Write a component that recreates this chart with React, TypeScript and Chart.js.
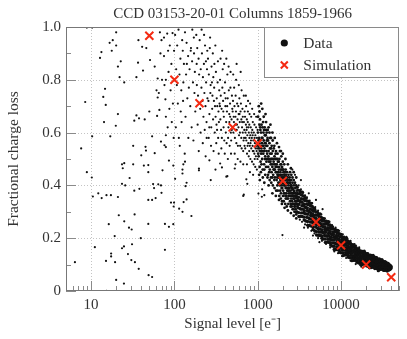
import React, { useEffect, useRef } from "react";
import { Chart, registerables } from "chart.js";

Chart.register(...registerables);

const TITLE = "CCD 03153-20-01 Columns 1859-1966";
const X_TITLE = "Signal level [e\u207B]";
const Y_TITLE = "Fractional charge loss";

const xTickValues = [10, 100, 1000, 10000];
const xTickLabels = ["10", "100", "1000", "10000"];
const yTickValues = [0, 0.2, 0.4, 0.6, 0.8, 1.0];
const yTickLabels = ["0", "0.2", "0.4", "0.6", "0.8", "1.0"];

const simSignal = [50, 100, 200, 500, 1000, 2000, 5000, 10000, 20000, 40000];
const simLoss = [0.967, 0.8, 0.711, 0.62, 0.559, 0.417, 0.261, 0.173, 0.1, 0.052];

// sparse low-signal data points
const dataSparse: [number, number][] = [
  [20,.98],[37,.95],[18.2,.95],[16.7,.94],[20,.93],[13.3,.905],[17.7,.91],[12.8,.883],[22.7,.87],[36.6,.865],
  [21,.85],[42,.835],[51,.875],[58,.85],[46,.92],[41,.925],[70,.95],[75,.96],[82,.975],[95,.977],[67,.98],
  [68,.9],[75,.89],[84,.91],[22,.81],[35,.81],[25,.79],[63,.805],[71,.8],[79,.8],[14.7,.766],[14,.735],
  [8.5,.716],[15,.705],[61,.76],[65,.75],[63,.733],[78,.726],[76,.78],[66,.686],[79,.66],[50,.68],[35,.665],
  [21,.67],[37.6,.654],[33,.645],[44,.65],[62,.663],[14.3,.64],[19.8,.626],[10.3,.586],[17,.586],[54,.586],
  [79,.59],[69,.566],[76,.552],[32,.55],[45,.546],[7.6,.54],[45.6,.532],[58,.522],[40,.514],[79,.545],
  [8.9,.998],[10.3,.998],[88,.93],[92,.86],[85,.83],[90,.76],[96,.71],[93,.64],[87,.69],[98,.58],[83,.62],[99,.91],
  [8.9,.45],[10.2,.43],[23.5,.48],[25,.484],[24,.465],[32,.48],[43,.475],[48.6,.477],[48.6,.45],[72,.457],
  [86,.494],[97,.475],[29,.428],[23.5,.406],[25.7,.4],[33,.38],[38,.387],[55.5,.405],[64,.404],[57,.39],
  [69,.4],[70,.372],[12.2,.37],[10.5,.358],[13.4,.352],[15.3,.363],[17.3,.363],[21,.356],[48.6,.345],[54,.345],
  [59.5,.352],[91,.335],[99,.335],[98,.32],[21.5,.287],[33.3,.29],[25,.264],[16.3,.253],[48.6,.254],[77,.254],
  [86,.243],[28.5,.24],[30.7,.233],[19.2,.208],[39.5,.2],[11.1,.166],[31,.177],[24.8,.169],[23.5,.162],[77,.156],
  [17.4,.142],[17.4,.131],[27.7,.14],[6.4,.109],[15.1,.114],[19.4,.109],[30.4,.117],[33.6,.109],[37.3,.084],
  [49,.06],[54,.053],[20,.042],[24.8,.028],[15.3,.001],
  [134,.49],[128,.48],[125,.46],[125,.445],[102,.425],[197,.464],[197,.457],[263,.495],[354,.483],[372,.468],
  [311,.46],[432,.435],[273,.42],[140,.41],[136,.397],[530,.464],[540,.48],[730,.423],[750,.406],[680,.365],
  [1020,.369],[1200,.363],[1130,.385],[140,.347],[129,.337],[114,.312],[125,.3],[160,.284],[97,.253],
  [420,.433],[670,.36],[1120,.357],[1980,.212],
];

// speckle around the dense band
const dataHalo: [number, number][] = [
  [3100,.4],[3300,.385],[3500,.372],[3700,.362],[3900,.355],[4200,.342],[4500,.333],[4900,.318],[5300,.305],
  [5800,.29],[6400,.275],[7000,.265],[7800,.25],[8600,.24],[9500,.228],[10500,.215],[11600,.205],[13000,.19],
  [14500,.178],[16500,.165],
  [3200,.27],[3400,.262],[3700,.252],[4000,.24],[4400,.228],[4800,.218],[5300,.2],[5900,.19],[6600,.178],
  [7400,.165],[8300,.15],[9200,.143],[10300,.132],[11500,.125],[13000,.115],[15000,.102],[17500,.092],
  [3300,.42],[4100,.37],[5000,.345],[6000,.31],[2800,.44],[2600,.46],[3600,.24],[4600,.21],[5500,.185],
];

// upper cloud, 100 - 1000 e-
const dataCloud: [number, number][] = [
  [102,.97],[108,.93],[112,.99],[118,.88],[105,.84],[115,.82],[121,.76],[110,.71],[126,.91],[130,.86],[124,.95],
  [107,.78],[119,.68],[128,.79],[104,.62],[113,.58],[127,.72],[122,.64],[116,.55],
  [134,.98],[140,.94],[146,.89],[152,.84],[138,.82],[158,.92],[163,.87],[149,.77],[171,.96],[176,.83],[143,.73],
  [167,.79],[155,.7],[174,.75],[136,.66],[161,.62],[178,.68],[147,.58],[169,.57],[133,.52],[157,.91],[164,.99],
  [141,.86],[172,.9],
  [183,.97],[188,.92],[195,.88],[201,.95],[207,.84],[214,.9],[220,.81],[226,.86],[233,.93],[240,.79],[246,.84],
  [186,.78],[192,.74],[198,.82],[204,.69],[211,.77],[217,.72],[223,.66],[229,.75],[236,.7],[243,.64],[249,.73],
  [190,.63],[206,.6],[219,.56],[231,.61],[244,.58],[196,.53],[237,.51],[212,.99],[227,.97],[248,.91],[185,.86],[239,.87],
  [253,.88],[259,.82],[266,.92],[272,.78],[279,.85],[286,.74],[293,.81],[300,.77],[307,.7],[315,.83],[322,.73],
  [330,.79],[338,.68],[345,.76],[256,.72],[263,.67],[270,.75],[277,.62],[284,.69],[291,.65],[298,.72],[305,.6],
  [312,.66],[320,.63],[327,.7],[335,.58],[342,.64],[348,.71],[258,.58],[275,.55],[295,.53],[318,.56],[340,.52],
  [268,.96],[289,.9],[310,.93],[333,.87],[262,.62],[302,.86],[325,.61],[282,.79],
  [353,.8],[360,.74],[368,.69],[376,.77],[384,.72],[392,.66],[400,.75],[409,.7],[418,.64],[427,.68],[436,.73],
  [445,.62],[455,.67],[465,.71],[475,.6],[485,.65],[495,.69],[356,.65],[363,.61],[371,.58],[380,.84],[389,.62],
  [397,.57],[405,.79],[414,.6],[423,.56],[432,.82],[441,.58],[450,.76],[460,.55],[470,.77],[480,.57],[490,.74],
  [358,.88],[374,.91],[395,.86],[420,.88],[447,.85],[472,.83],[366,.54],[402,.52],[438,.5],[478,.52],[386,.68],
  [412,.73],[457,.64],[488,.61],[352,.7],[430,.7],[467,.66],
  [505,.72],[515,.66],[526,.7],[537,.63],[548,.68],[560,.61],[572,.65],[584,.7],[596,.59],[609,.64],[622,.68],
  [635,.58],[648,.62],[662,.66],[676,.57],[690,.61],[510,.6],[521,.77],[532,.58],[543,.74],[554,.56],[566,.71],
  [578,.55],[590,.67],[602,.73],[615,.55],[628,.71],[641,.54],[655,.69],[669,.53],[683,.64],[697,.68],[518,.64],
  [540,.66],[563,.63],[587,.62],[611,.6],[636,.65],[660,.6],[686,.58],[508,.82],[550,.8],[593,.78],[640,.76],
  [680,.74],[529,.52],[575,.5],[620,.49],[670,.48],[500,.68],[545,.61],[605,.67],[650,.64],[695,.55],[558,.86],[624,.83],
  [704,.66],[712,.6],[721,.63],[730,.57],[740,.62],[750,.59],[760,.64],[770,.56],[781,.6],[792,.63],[803,.55],
  [814,.59],[825,.62],[837,.54],[849,.58],[861,.61],[873,.53],[885,.57],[898,.6],[911,.52],[924,.56],[937,.59],
  [950,.51],[964,.55],[978,.58],[992,.5],[708,.54],[726,.7],[744,.52],[762,.68],[780,.51],[798,.67],[816,.5],
  [835,.66],[854,.49],[873,.64],[893,.48],[913,.63],[934,.47],[955,.62],[976,.46],[997,.61],[716,.58],[735,.61],
  [755,.55],[775,.62],[795,.58],[819,.56],[843,.6],[867,.55],[891,.53],[917,.58],[943,.54],[970,.53],[720,.74],
  [765,.72],[810,.71],[858,.69],[905,.67],[958,.66],[742,.48],[806,.45],[880,.44],[740,.65],[790,.53],[830,.57],
  [870,.59],[920,.5],[985,.54],
];

// band, 1000 - 3000 e-
const dataBandMid: [number, number][] = [
  [1005,.6],[1015,.55],[1026,.51],[1037,.58],[1048,.63],[1059,.53],[1070,.57],[1082,.49],[1094,.6],[1106,.54],
  [1118,.58],[1130,.5],[1142,.62],[1154,.55],[1166,.52],[1179,.57],[1192,.48],[1205,.54],[1218,.59],[1231,.51],
  [1244,.56],[1258,.47],[1272,.53],[1286,.57],[1010,.66],[1032,.54],[1053,.47],[1076,.61],[1099,.52],[1122,.56],
  [1146,.46],[1170,.6],[1195,.53],[1220,.5],[1246,.59],[1272,.49],[1298,.52],[1020,.57],[1065,.65],[1110,.63],
  [1160,.64],[1210,.62],[1260,.61],[1040,.44],[1090,.45],[1150,.43],[1230,.44],[1012,.52],[1045,.56],[1085,.55],
  [1125,.53],[1175,.55],[1215,.56],[1265,.55],[1290,.5],[1030,.7],[1135,.69],[1240,.67],
  [1305,.55],[1320,.5],[1335,.47],[1350,.53],[1366,.49],[1382,.56],[1398,.46],[1414,.52],[1430,.48],[1447,.54],
  [1464,.45],[1481,.5],[1498,.47],[1516,.53],[1534,.44],[1552,.49],[1570,.46],[1589,.51],[1608,.43],[1627,.48],
  [1646,.45],[1666,.5],[1686,.42],[1706,.47],[1726,.44],[1747,.49],[1768,.41],[1789,.46],[1312,.58],[1342,.51],
  [1372,.45],[1403,.54],[1435,.5],[1467,.52],[1500,.43],[1534,.5],[1569,.48],[1604,.46],[1640,.47],[1677,.45],
  [1715,.43],[1754,.45],[1793,.43],[1328,.44],[1390,.42],[1455,.41],[1520,.4],[1590,.39],[1665,.38],[1740,.38],
  [1318,.61],[1380,.6],[1445,.58],[1512,.57],[1582,.55],[1655,.53],[1730,.52],[1360,.5],[1420,.49],[1485,.48],
  [1550,.46],[1620,.5],[1695,.48],[1770,.44],
  [1810,.47],[1830,.43],[1850,.4],[1871,.45],[1892,.42],[1913,.48],[1934,.39],[1956,.44],[1978,.41],[2000,.46],
  [2022,.38],[2045,.43],[2068,.4],[2091,.45],[2114,.37],[2138,.42],[2162,.39],[2186,.44],[2211,.36],[2236,.41],
  [2261,.38],[2286,.43],[2312,.35],[2338,.4],[2364,.37],[2390,.42],[1820,.5],[1860,.44],[1900,.37],[1942,.46],
  [1985,.43],[2030,.41],[2075,.44],[2120,.4],[2168,.42],[2216,.39],[2265,.41],[2316,.38],[2368,.39],[1840,.41],
  [1880,.48],[1925,.43],[1970,.39],[2015,.42],[2060,.37],[2105,.42],[2150,.36],[2200,.4],[2250,.35],[2300,.39],
  [2350,.36],[1815,.36],[1890,.35],[1960,.34],[2050,.34],[2140,.33],[2230,.32],[1845,.53],[1920,.51],[2000,.49],
  [2080,.48],[2165,.46],[2250,.45],[2340,.44],[1875,.42],[1950,.4],[2035,.45],[2125,.43],[2210,.37],[2295,.41],[2380,.38],
  [2410,.39],[2435,.36],[2460,.41],[2486,.38],[2512,.35],[2538,.4],[2565,.37],[2592,.34],[2619,.39],[2646,.36],
  [2674,.33],[2702,.38],[2730,.35],[2759,.32],[2788,.37],[2817,.34],[2846,.31],[2876,.36],[2906,.33],[2936,.38],
  [2967,.35],[2998,.32],[2420,.43],[2470,.37],[2520,.42],[2570,.39],[2620,.41],[2670,.37],[2720,.4],[2770,.35],
  [2820,.39],[2870,.34],[2920,.36],[2975,.37],[2440,.34],[2500,.33],[2560,.32],[2625,.31],[2690,.31],[2760,.3],
  [2830,.3],[2900,.29],[2445,.45],[2530,.44],[2615,.43],[2705,.42],[2795,.41],[2890,.4],[2480,.4],[2545,.36],
  [2600,.37],[2655,.35],[2710,.36],[2780,.33],[2850,.37],[2950,.34],
  [1050,.68],[1100,.71],[1180,.66],[1260,.64],[1350,.62],[1420,.63],[1500,.6],[1600,.58],[1700,.56],[1800,.545],
  [1900,.53],[2000,.52],[2150,.5],[2300,.48],[2500,.465],[2700,.45],[2900,.43],
  [1060,.42],[1200,.41],[1350,.4],[1500,.37],[1650,.36],[1800,.345],[1950,.33],[2100,.315],[2300,.305],
  [2500,.295],[2700,.285],[2900,.275],
  [1070,.62],[1140,.58],[1190,.61],[1280,.6],[1330,.57],[1410,.58],[1470,.55],[1560,.54],[1640,.52],[1720,.5],
  [1790,.49],[1880,.46],[1960,.47],[2040,.46],[2130,.45],[2220,.43],[2320,.42],[2420,.41],[2520,.395],[2630,.385],
  [2740,.375],[2860,.36],[2960,.355],[1110,.48],[1200,.46],[1310,.43],[1440,.43],[1580,.42],[1720,.4],[1860,.38],
  [2010,.36],[2170,.35],[2330,.33],[2480,.32],[2640,.33],[2800,.32],[2940,.3],
];

// dense band, 3000 - 39000 e-
const dataBandTail: [number, number][] = [
  [2955,.299],[3036,.315],[2979,.329],[3072,.343],[2934,.356],[3018,.369],[3054,.382],[2970,.393],
  [3103,.297],[3188,.313],[3128,.328],[3226,.341],[3081,.355],[3169,.368],[3207,.38],[3119,.282],
  [3258,.283],[3348,.296],[3285,.31],[3387,.323],[3235,.337],[3328,.35],[3368,.363],[3275,.374],
  [3421,.282],[3515,.296],[3449,.31],[3556,.323],[3397,.336],[3494,.348],[3536,.36],[3438,.374],
  [3592,.28],[3691,.293],[3621,.304],[3735,.316],[3567,.329],[3669,.342],[3713,.353],[3611,.269],
  [3772,.265],[3875,.279],[3802,.292],[3921,.305],[3745,.317],[3852,.329],[3898,.341],[3791,.351],
  [3960,.263],[4068,.277],[3992,.291],[4116,.303],[3932,.315],[4044,.327],[4092,.339],[3980,.249],
  [4158,.248],[4272,.261],[4191,.273],[4322,.286],[4128,.299],[4246,.311],[4297,.323],[4179,.333],
  [4366,.246],[4485,.26],[4401,.273],[4538,.285],[4334,.297],[4459,.308],[4512,.32],[4388,.332],
  [4584,.243],[4710,.256],[4621,.267],[4766,.278],[4552,.291],[4682,.302],[4738,.313],[4607,.233],
  [4814,.228],[4946,.242],[4853,.254],[5004,.266],[4779,.277],[4916,.288],[4975,.3],[4838,.309],
  [5054,.225],[5193,.239],[5095,.252],[5254,.264],[5018,.276],[5162,.287],[5223,.298],[5080,.212],
  [5307,.211],[5453,.223],[5350,.234],[5517,.246],[5269,.258],[5420,.269],[5485,.281],[5334,.29],
  [5572,.21],[5725,.223],[5617,.235],[5793,.247],[5533,.258],[5691,.269],[5759,.28],[5600,.292],
  [5851,.209],[6011,.222],[5898,.231],[6083,.242],[5809,.254],[5976,.265],[6047,.275],[5881,.2],
  [6143,.197],[6312,.21],[6193,.222],[6387,.233],[6100,.244],[6274,.254],[6349,.265],[6175,.274],
  [6451,.197],[6628,.209],[6503,.222],[6706,.233],[6405,.243],[6588,.254],[6667,.264],[6484,.184],
  [6773,.185],[6959,.196],[6828,.207],[7041,.218],[6725,.23],[6917,.24],[7000,.252],[6807,.26],
  [7112,.184],[7307,.196],[7169,.208],[7393,.219],[7061,.23],[7263,.24],[7350,.25],[7148,.262],
  [7467,.183],[7672,.194],[7528,.204],[7763,.214],[7414,.225],[7626,.235],[7717,.245],[7505,.174],
  [7841,.17],[8056,.182],[7904,.193],[8151,.204],[7785,.214],[8008,.224],[8103,.235],[7880,.243],
  [8233,.169],[8458,.181],[8299,.193],[8559,.203],[8174,.214],[8408,.224],[8508,.233],[8274,.157],
  [8644,.157],[8881,.167],[8715,.178],[8987,.189],[8583,.2],[8829,.21],[8934,.22],[8688,.229],
  [9077,.156],[9326,.168],[9150,.178],[9436,.189],[9012,.199],[9270,.208],[9381,.218],[9123,.229],
  [9530,.155],[9791,.166],[9607,.175],[9907,.185],[9462,.195],[9733,.205],[9849,.215],[9578,.147],
  [10007,.145],[10281,.156],[10088,.166],[10403,.176],[9936,.186],[10220,.195],[10342,.205],[10057,.213],
  [10507,.145],[10795,.156],[10592,.167],[10923,.176],[10432,.186],[10731,.195],[10859,.204],[10560,.134],
  [11032,.136],[11334,.145],[11122,.155],[11469,.164],[10954,.174],[11267,.183],[11402,.193],[11088,.2],
  [11584,.136],[11901,.146],[11678,.155],[12042,.165],[11501,.174],[11831,.182],[11972,.191],[11642,.2],
  [12163,.135],[12496,.145],[12262,.152],[12644,.161],[12076,.17],[12422,.178],[12570,.186],[12225,.128],
  [12772,.126],[13122,.135],[12875,.144],[13277,.152],[12681,.161],[13044,.169],[13199,.177],[12836,.184],
  [13410,.125],[13777,.134],[13519,.144],[13941,.152],[13314,.16],[13696,.168],[13859,.175],[13478,.115],
  [14081,.116],[14467,.124],[14195,.132],[14638,.14],[13981,.148],[14381,.156],[14552,.164],[14152,.17],
  [14785,.116],[15190,.125],[14905,.133],[15370,.141],[14680,.148],[15100,.155],[15280,.163],[14860,.171],
  [15524,.115],[15949,.123],[15650,.129],[16138,.136],[15413,.144],[15855,.151],[16044,.158],[15602,.109],
  [16300,.106],[16747,.115],[16432,.122],[16945,.13],[16184,.137],[16647,.144],[16846,.151],[16383,.157],
  [17115,.107],[17585,.115],[17254,.123],[17793,.13],[16994,.137],[17480,.144],[17689,.151],[17202,.099],
  [17970,.1],[18463,.107],[18116,.114],[18682,.121],[17843,.129],[18353,.136],[18572,.143],[18062,.149],
  [18870,.102],[19387,.109],[19023,.117],[19617,.124],[18736,.13],[19272,.137],[19502,.143],[18965,.151],
  [19813,.101],[20356,.109],[19974,.115],[20598,.121],[19672,.128],[20236,.135],[20477,.141],[19914,.096],
  [20803,.094],[21373,.102],[20972,.109],[21627,.116],[20655,.122],[21247,.129],[21500,.136],[20909,.141],
  [21844,.096],[22443,.103],[22022,.111],[22709,.117],[21689,.124],[22310,.13],[22576,.136],[21955,.088],
  [22937,.089],[23565,.095],[23123,.102],[23845,.109],[22774,.116],[23426,.122],[23705,.129],[23053,.134],
  [24083,.09],[24743,.097],[24279,.104],[25037,.111],[23912,.117],[24597,.123],[24890,.129],[24206,.135],
  [25287,.09],[25980,.097],[25492,.102],[26288,.108],[25107,.115],[25826,.121],[26134,.127],[25415,.085],
  [26552,.085],[27279,.092],[26767,.098],[27603,.104],[26363,.11],[27118,.115],[27441,.121],[26686,.126],
  [27879,.084],[28644,.091],[28106,.098],[28983,.104],[27681,.11],[28474,.116],[28813,.121],[28021,.077],
  [29273,.081],[30076,.086],[29511,.092],[30432,.097],[29065,.103],[29897,.108],[30254,.114],[29422,.118],
  [30737,.082],[31579,.088],[30987,.093],[31954,.098],[30518,.104],[31392,.109],[31767,.113],[30893,.119],
  [32274,.083],[33158,.088],[32535,.092],[33551,.097],[32044,.102],[32962,.107],[33355,.111],[32437,.078],
  [33887,.078],[34816,.084],[34162,.088],[35229,.093],[33646,.098],[34609,.102],[35022,.107],[34059,.11],
  [35582,.081],[36557,.085],[35871,.09],[36991,.093],[35329,.097],[36341,.101],[36774,.104],[35763,.076],
  [37361,.079],[38385,.082],[37664,.085],[38840,.089],[37096,.092],[38158,.095],[38613,.098],[37551,.1],
  [38400,.081],[39470,.084],[38730,.086],[39900,.088],[38140,.09],[39230,.092],[39700,.094],
];

const FONT = "'Liberation Serif', 'Times New Roman', serif";
const TEXT = "#333333";
const RED = "#f42a12";
const DOT = "#111111";

const decor = {
  id: "decor",
  beforeDatasetsDraw(chart: any) {
    const { ctx, chartArea: a, scales } = chart;
    const x = scales.x, y = scales.y;
    ctx.save();
    ctx.strokeStyle = "#c4c4c4";
    ctx.lineWidth = 1;
    ctx.setLineDash([1, 2]);
    ctx.beginPath();
    xTickValues.forEach((v) => {
      const px = Math.round(x.getPixelForValue(v)) + 0.5;
      ctx.moveTo(px, a.top);
      ctx.lineTo(px, a.bottom);
    });
    yTickValues.forEach((v) => {
      if (v <= 0 || v >= 1) return;
      const py = Math.round(y.getPixelForValue(v)) + 0.5;
      ctx.moveTo(a.left, py);
      ctx.lineTo(a.right, py);
    });
    ctx.stroke();
    ctx.restore();
  },
  afterDatasetsDraw(chart: any) {
    const { ctx, chartArea: a, scales } = chart;
    const x = scales.x, y = scales.y;
    ctx.save();
    ctx.setLineDash([]);
    ctx.lineWidth = 1;
    ctx.strokeStyle = "#8a8a8a";
    ctx.beginPath();
    for (let d = 1; d <= 10000; d *= 10) {
      for (let m = 1; m <= 9; m++) {
        const v = d * m;
        if (v < 5 || v > 50000) continue;
        const px = Math.round(x.getPixelForValue(v)) + 0.5;
        const len = m === 1 ? 10 : 5;
        ctx.moveTo(px, a.bottom);
        ctx.lineTo(px, a.bottom - len);
      }
    }
    for (let i = 0; i <= 10; i++) {
      const v = i / 10;
      const py = Math.round(y.getPixelForValue(v)) + 0.5;
      const len = i % 2 === 0 ? 10 : 5;
      ctx.moveTo(a.left, py);
      ctx.lineTo(a.left + len, py);
    }
    ctx.stroke();
    ctx.strokeStyle = "#777777";
    ctx.strokeRect(Math.round(a.left) + 0.5, Math.round(a.top) + 0.5,
      Math.round(a.right - a.left) - 1, Math.round(a.bottom - a.top) - 1);
    ctx.restore();
  },
  afterDraw(chart: any) {
    const { ctx, chartArea: a } = chart;
    const sets = chart.data.datasets;
    const simLabel = sets[0].label;
    const dataLabel = sets[1].label;
    ctx.save();
    ctx.fillStyle = TEXT;
    ctx.font = `15px ${FONT}`;
    ctx.textAlign = "center";
    ctx.textBaseline = "middle";
    ctx.fillText(TITLE, (a.left + a.right) / 2, 14);
    const bx = Math.round(a.right - 135) + 0.5;
    const by = Math.round(a.top) + 0.5;
    const bw = Math.round(a.right) - 0.5 - bx;
    const bh = 50;
    ctx.fillStyle = "#ffffff";
    ctx.fillRect(bx, by, bw, bh);
    ctx.strokeStyle = "#8a8a8a";
    ctx.lineWidth = 1;
    ctx.strokeRect(bx, by, bw, bh);
    const mx = a.right - 115;
    const y1 = a.top + 16;
    const y2 = a.top + 38;
    ctx.fillStyle = DOT;
    ctx.beginPath();
    ctx.arc(mx, y1, 3.6, 0, Math.PI * 2);
    ctx.fill();
    ctx.strokeStyle = RED;
    ctx.lineWidth = 2;
    ctx.beginPath();
    ctx.moveTo(mx - 3.5, y2 - 3.5);
    ctx.lineTo(mx + 3.5, y2 + 3.5);
    ctx.moveTo(mx + 3.5, y2 - 3.5);
    ctx.lineTo(mx - 3.5, y2 + 3.5);
    ctx.stroke();
    ctx.fillStyle = TEXT;
    ctx.font = `15.5px ${FONT}`;
    ctx.textBaseline = "middle";
    ctx.textAlign = "left";
    ctx.fillText(dataLabel, a.right - 96, y1 + 1);
    ctx.fillText(simLabel, a.right - 96, y2 + 1);
    ctx.restore();
  },
};

export default function App() {
  const ref = useRef<HTMLCanvasElement | null>(null);
  useEffect(() => {
    document.body.style.margin = "0";
    const canvas = ref.current;
    if (!canvas) return;
    const toPts = (arr: [number, number][]) => arr.map(([x, y]) => ({ x, y }));
    const simPts = simSignal.map((s, i) => ({ x: s, y: simLoss[i] }));
    const dataStyle = (r: number) => ({
      pointStyle: "circle",
      pointRadius: r,
      pointHoverRadius: r,
      borderWidth: 0,
      backgroundColor: DOT,
      borderColor: DOT,
      order: 1,
    });
    const chart = new Chart(canvas, {
      type: "scatter",
      data: {
        datasets: [
          {
            label: "Simulation",
            data: simPts,
            pointStyle: "crossRot",
            pointRadius: 5.7,
            pointHoverRadius: 5.7,
            borderWidth: 2,
            borderColor: RED,
            backgroundColor: RED,
            order: 0,
          },
          { label: "Data", data: toPts([...dataSparse, ...dataCloud, ...dataHalo]), ...dataStyle(1.1) },
          { label: "Data", data: toPts(dataBandMid), ...dataStyle(1.4) },
          { label: "Data", data: toPts(dataBandTail), ...dataStyle(1.7) },
        ] as any,
      },
      options: {
        animation: false,
        responsive: false,
        devicePixelRatio: 1,
        layout: { padding: { left: 0, right: 5, top: 27, bottom: 0 } },
        plugins: {
          legend: { display: false },
          tooltip: { enabled: false },
          title: { display: false },
        },
        scales: {
          x: {
            type: "logarithmic",
            min: 5,
            max: 50000,
            afterBuildTicks: (s: any) => {
              s.ticks = xTickValues.map((v) => ({ value: v }));
            },
            afterFit: (s: any) => {
              s.height = 48;
            },
            ticks: {
              autoSkip: false,
              maxRotation: 0,
              padding: 5,
              color: TEXT,
              font: { family: FONT, size: 15 },
              callback: (v: any) => {
                const i = xTickValues.indexOf(Number(v));
                return i >= 0 ? xTickLabels[i] : "";
              },
            },
            grid: { display: false, drawTicks: false },
            border: { display: false },
            title: {
              display: true,
              text: X_TITLE,
              color: TEXT,
              font: { family: FONT, size: 15 },
              padding: { top: 0, bottom: 6 },
            },
          },
          y: {
            type: "linear",
            min: 0,
            max: 1,
            afterBuildTicks: (s: any) => {
              s.ticks = yTickValues.map((v) => ({ value: v }));
            },
            afterFit: (s: any) => {
              s.width = 66;
            },
            ticks: {
              padding: 5,
              color: TEXT,
              font: { family: FONT, size: 15 },
              callback: (v: any) => {
                const i = yTickValues.indexOf(Number(v));
                return i >= 0 ? yTickLabels[i] : "";
              },
            },
            grid: { display: false, drawTicks: false },
            border: { display: false },
            title: {
              display: true,
              text: Y_TITLE,
              color: TEXT,
              font: { family: FONT, size: 15.5 },
              padding: { top: 5, bottom: 0 },
            },
          },
        },
      },
      plugins: [decor],
    });
    return () => chart.destroy();
  }, []);
  return <canvas ref={ref} width={407} height={339} style={{ display: "block" }} />;
}
